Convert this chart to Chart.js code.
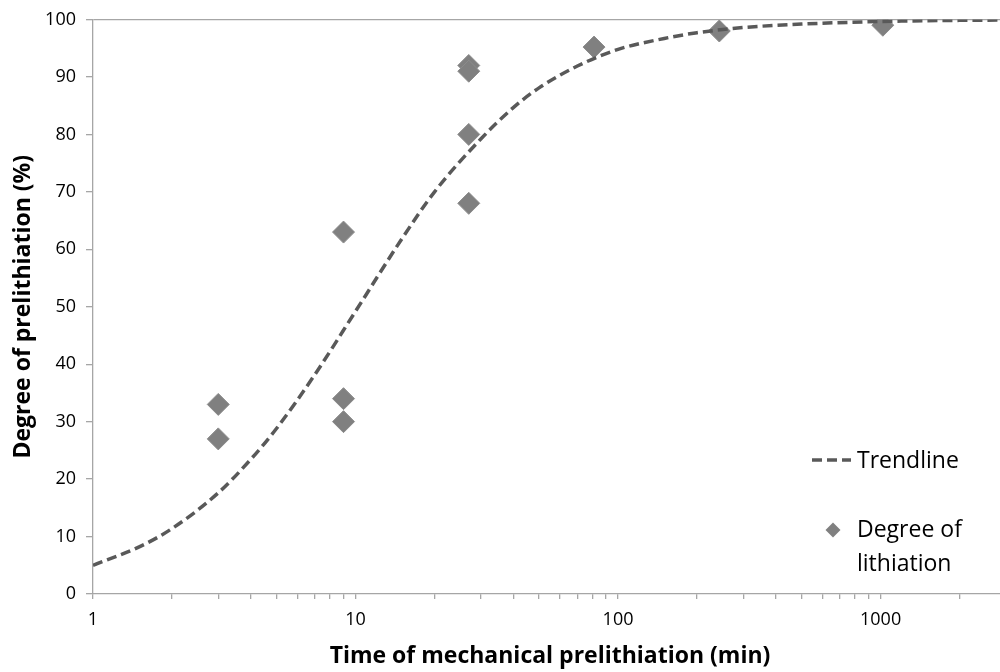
<!DOCTYPE html>
<html>
<head>
<meta charset="utf-8">
<script src="https://cdn.jsdelivr.net/npm/chart.js@4/dist/chart.umd.min.js"></script>
<style>
  html, body { margin: 0; padding: 0; background: #fff; }
  #wrap { width: 1000px; height: 672px; }
</style>
</head>
<body>
<div id="wrap"><canvas id="c" width="1000" height="672"></canvas></div>
<script>
// Measured points (time in min, degree of lithiation in %)
const pointTimes  = [3, 3, 9, 9, 9, 27, 27, 27, 27, 81, 243, 1020];
const pointValues = [33, 27, 63, 34, 30, 92, 91, 80, 68, 95.2, 98, 99];

// Trendline
const trendTimes  = [1, 1.5, 2, 3, 4, 5, 7, 10, 15, 20, 30, 40, 50, 70, 100, 150, 200, 300, 500, 1000, 2000, 2850];
const trendValues = [5.0, 8.2, 11.4, 17.6, 23.5, 28.8, 38.2, 49.2, 61.8, 70.0, 79.2, 84.7, 88.1, 91.9, 94.8, 96.7, 97.7, 98.6, 99.2, 99.65, 99.85, 99.9];

const xLabelValues = [1, 10, 100, 1000];
const yTickValues  = [0, 10, 20, 30, 40, 50, 60, 70, 80, 90, 100];

const xTitle = 'Time of mechanical prelithiation (min)';
const yTitle = 'Degree of prelithiation (%)';
const legendTrend = 'Trendline';
const legendPoints = ['Degree of', 'lithiation'];

const AXIS = '#a6a6a6';
const FONT = '"Open Sans", "DejaVu Sans", sans-serif';

const overlay = {
  id: 'overlay',
  afterDraw(chart) {
    const ctx = chart.ctx;
    const area = chart.chartArea;
    const trend = chart.data.datasets[0];
    const pts = chart.data.datasets[1];
    ctx.save();
    // axis titles
    ctx.fillStyle = '#000';
    ctx.font = 'bold 23px ' + FONT;
    ctx.textAlign = 'center';
    ctx.textBaseline = 'alphabetic';
    ctx.fillText(xTitle, 550, 663);
    ctx.save();
    ctx.translate(30, (area.top + area.bottom) / 2);
    ctx.rotate(-Math.PI / 2);
    ctx.fillText(yTitle, 0, 0);
    ctx.restore();

    // legend
    ctx.strokeStyle = trend.borderColor;
    ctx.lineWidth = trend.borderWidth;
    ctx.setLineDash(trend.borderDash);
    ctx.beginPath();
    ctx.moveTo(812, 460);
    ctx.lineTo(851, 460);
    ctx.stroke();
    ctx.setLineDash([]);

    ctx.fillStyle = pts.backgroundColor;
    ctx.beginPath();
    ctx.moveTo(833, 522.5);
    ctx.lineTo(840.5, 530);
    ctx.lineTo(833, 537.5);
    ctx.lineTo(825.5, 530);
    ctx.closePath();
    ctx.fill();

    ctx.fillStyle = '#000';
    ctx.font = '23px ' + FONT;
    ctx.textAlign = 'left';
    ctx.fillText(legendTrend, 857, 468);
    ctx.fillText(legendPoints[0], 857, 537);
    ctx.fillText(legendPoints[1], 857, 571);
    ctx.restore();
  }
};

new Chart(document.getElementById('c'), {
  type: 'scatter',
  data: {
    datasets: [
      {
        label: legendTrend,
        type: 'line',
        data: trendTimes.map((t, i) => ({ x: t, y: trendValues[i] })),
        borderColor: '#595959',
        borderWidth: 3.5,
        borderDash: [10, 5],
        pointRadius: 0,
        fill: false,
        cubicInterpolationMode: 'monotone',
        order: 0
      },
      {
        label: legendPoints.join(' '),
        data: pointTimes.map((t, i) => ({ x: t, y: pointValues[i] })),
        pointStyle: 'rectRot',
        pointRadius: 11,
        pointHoverRadius: 11,
        backgroundColor: '#808080',
        borderColor: '#8c8c8c',
        borderWidth: 1,
        order: 1
      }
    ]
  },
  options: {
    responsive: false,
    animation: false,
    events: [],
    layout: { autoPadding: false, padding: { top: 19.5, right: 0, left: 0, bottom: 0 } },
    plugins: { legend: { display: false }, tooltip: { enabled: false } },
    scales: {
      x: {
        type: 'logarithmic',
        min: 1,
        max: 2850,
        afterBuildTicks(scale) {
          scale.ticks = scale.ticks.filter(t => {
            const m = t.value / Math.pow(10, Math.floor(Math.log10(t.value) + 1e-9));
            return Math.abs(m - Math.round(m)) < 1e-6;
          });
        },
        afterFit(scale) {
          scale.height = 78;
          scale.paddingRight = 0;
          scale.paddingLeft = 0;
        },
        border: { color: AXIS, width: 1.3 },
        grid: { drawOnChartArea: false, color: AXIS, tickColor: AXIS, tickLength: 5, lineWidth: 1.3 },
        ticks: {
          autoSkip: false,
          maxRotation: 0,
          padding: 10,
          color: '#000',
          font: { family: FONT, size: 18 },
          callback: v => xLabelValues.includes(v) ? String(v) : ''
        },
        title: { display: false }
      },
      y: {
        min: 0,
        max: 100,
        afterBuildTicks(scale) { scale.ticks = yTickValues.map(v => ({ value: v })); },
        afterFit(scale) {
          scale.width = 93;
          scale.paddingTop = 0;
          scale.paddingBottom = 0;
        },
        border: { color: AXIS, width: 1.3 },
        grid: {
          drawOnChartArea: true,
          color: c => (c.tick && c.tick.value === 100) ? AXIS : 'rgba(0,0,0,0)',
          tickColor: AXIS,
          tickLength: 7,
          lineWidth: 1.3
        },
        ticks: {
          padding: 10,
          color: '#000',
          font: { family: FONT, size: 18 }
        },
        title: { display: false }
      }
    }
  },
  plugins: [overlay]
});
</script>
</body>
</html>
